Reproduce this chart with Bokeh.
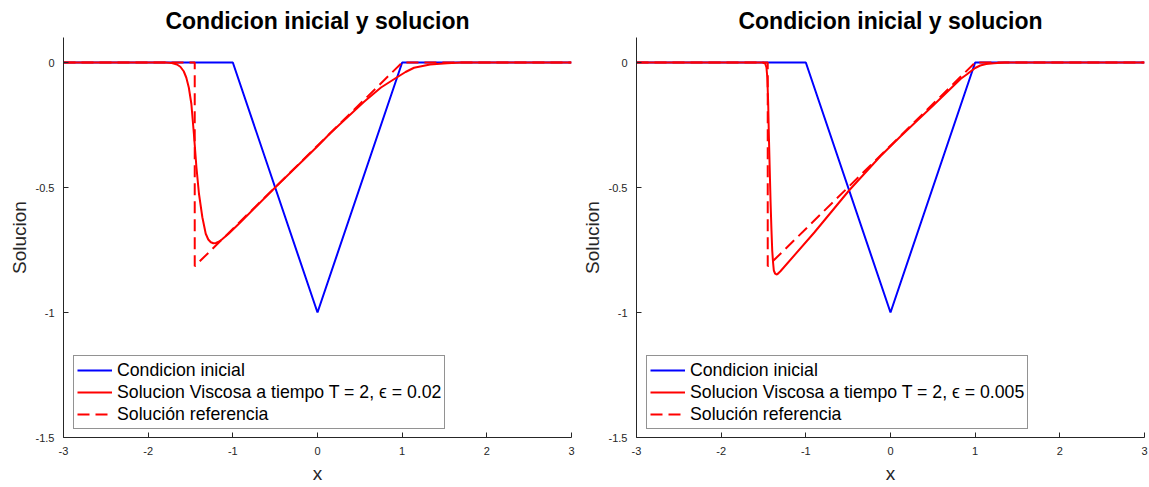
from bokeh.plotting import figure
from bokeh.models import Range1d, Legend, LegendItem, FixedTicker, Title
from bokeh.layouts import row
from bokeh.embed import file_html
from bokeh.resources import INLINE

# ---------------- data ----------------
x_ticks = [-3, -2, -1, 0, 1, 2, 3]
x_tick_labels = ["-3", "-2", "-1", "0", "1", "2", "3"]
y_ticks = [-1.5, -1.0, -0.5, 0.0]
y_tick_labels = ["-1.5", "-1", "-0.5", "0"]

# initial condition
x_ini = [-3.0, -1.0, 0.0, 1.0, 3.0]
y_ini = [0.0, 0.0, -1.0, 0.0, 0.0]

# reference (entropy) solution at T = 2
x_ref = [-3.0, -1.45, -1.45, 1.0, 3.0]
y_ref = [0.0, 0.0, -0.815, 0.0, 0.0]

# viscous solution, eps = 0.02
x_visc_a = [-3.0, -1.80, -1.72, -1.66, -1.62, -1.58, -1.55, -1.52, -1.49, -1.46,
            -1.43, -1.40, -1.36, -1.32, -1.29, -1.26, -1.23, -1.20, -1.16, -1.13,
            -1.05, -0.91, -0.50, 0.0, 0.15, 0.55, 0.75, 0.94, 1.04, 1.14, 1.33,
            1.53, 1.70, 3.0]
y_visc_a = [0.0, 0.0, -0.002, -0.008, -0.017, -0.035, -0.060, -0.100, -0.165, -0.285,
            -0.419, -0.525, -0.619, -0.685, -0.708, -0.719, -0.723, -0.722, -0.716, -0.708,
            -0.685, -0.639, -0.500, -0.335, -0.283, -0.157, -0.100, -0.059, -0.038, -0.021, -0.008,
            -0.003, 0.0, 0.0]

# viscous solution, eps = 0.005
x_visc_b = [-3.0, -1.51, -1.48, -1.465, -1.455, -1.445, -1.437, -1.427, -1.417, -1.407,
            -1.397, -1.387, -1.378, -1.362, -1.347, -1.33, -1.30, -0.90, -0.49, -0.12,
            0.12, 0.51, 0.83, 0.90, 0.945, 1.0, 1.06, 1.13, 1.22, 1.35, 3.0]
y_visc_b = [0.0, 0.0, -0.004, -0.020, -0.060, -0.160, -0.285, -0.420, -0.552, -0.660,
            -0.752, -0.800, -0.832, -0.845, -0.848, -0.845, -0.835, -0.680, -0.512, -0.375,
            -0.295, -0.170, -0.065, -0.048, -0.036, -0.022, -0.012, -0.006, -0.003, 0.0, 0.0]

title_text = "Condicion inicial y solucion"
x_label_text = "x"
y_label_text = "Solucion"
legend_labels_a = ["Condicion inicial", "Solucion Viscosa a tiempo T = 2, \u03f5 = 0.02", "Soluci\u00f3n referencia"]
legend_labels_b = ["Condicion inicial", "Solucion Viscosa a tiempo T = 2, \u03f5 = 0.005", "Soluci\u00f3n referencia"]

FONT = "Liberation Sans"
AX = "#262626"


def make(xv, yv, labels, border_left, border_right):
    p = figure(width=border_left + 508 + border_right, height=487,
               x_range=Range1d(-3, 3), y_range=Range1d(-1.5, 0.1),
               output_backend="svg", toolbar_location=None,
               min_border_left=border_left, min_border_right=border_right,
               min_border_top=37, min_border_bottom=50)
    p.title.text = title_text
    p.title.align = "center"
    p.title.text_font = FONT
    p.title.text_font_size = "23px"
    p.title.text_font_style = "bold"
    p.title.text_color = "#000000"
    p.title.standoff = 7
    p.xgrid.visible = False
    p.ygrid.visible = False
    p.outline_line_color = None
    p.background_fill_color = "white"
    p.border_fill_color = "white"

    p.xaxis.ticker = FixedTicker(ticks=x_ticks)
    p.xaxis.major_label_overrides = {t: s for t, s in zip(x_ticks, x_tick_labels)}
    p.yaxis.ticker = FixedTicker(ticks=y_ticks)
    p.yaxis.major_label_overrides = {t: s for t, s in zip(y_ticks, y_tick_labels)}
    for ax in (p.xaxis[0], p.yaxis[0]):
        ax.axis_line_color = AX
        ax.major_tick_line_color = AX
        ax.minor_tick_line_color = None
        ax.major_tick_in = 5
        ax.major_tick_out = 0
        ax.major_label_text_font = FONT
        ax.major_label_text_font_size = "11px"
        ax.major_label_text_color = AX
        ax.axis_label_text_font = FONT
        ax.axis_label_text_font_size = "19px"
        ax.axis_label_text_font_style = "normal"
        ax.axis_label_text_color = AX
    p.xaxis.axis_label = x_label_text
    p.xaxis.major_label_standoff = 9
    p.yaxis.major_label_standoff = 9
    p.xaxis.axis_label_standoff = 5

    # y label, shifted slightly below the axes centre as in the original
    ylab = Title(text=y_label_text, align="center", offset=-26, standoff=5,
                 text_font=FONT, text_font_size="19px", text_font_style="normal",
                 text_color=AX)
    p.add_layout(ylab, "left")

    r1 = p.line(x_ini, y_ini, line_color="#0000ff", line_width=2)
    r2 = p.line(xv, yv, line_color="#ff0000", line_width=2)
    r3 = p.line(x_ref, y_ref, line_color="#ff0000", line_width=2, line_dash="12 6")

    legend = Legend(items=[LegendItem(label=labels[0], renderers=[r1]),
                           LegendItem(label=labels[1], renderers=[r2]),
                           LegendItem(label=labels[2], renderers=[r3])],
                    location=(10, 8))
    legend.margin = 0
    legend.padding = 3
    legend.spacing = 0
    legend.glyph_width = 35
    legend.glyph_height = 22
    legend.label_height = 22
    legend.label_standoff = 5
    legend.label_text_font = FONT
    legend.label_text_font_size = "17.7px"
    legend.label_text_color = "#000000"
    legend.border_line_color = AX
    legend.border_line_width = 1
    legend.background_fill_color = "white"
    legend.background_fill_alpha = 1.0
    p.add_layout(legend)
    return p


p1 = make(x_visc_a, y_visc_a, legend_labels_a, 63, 4)
p2 = make(x_visc_b, y_visc_b, legend_labels_b, 61, 5)
layout = row(p1, p2)

open("out.html", "w").write(file_html(layout, INLINE))
